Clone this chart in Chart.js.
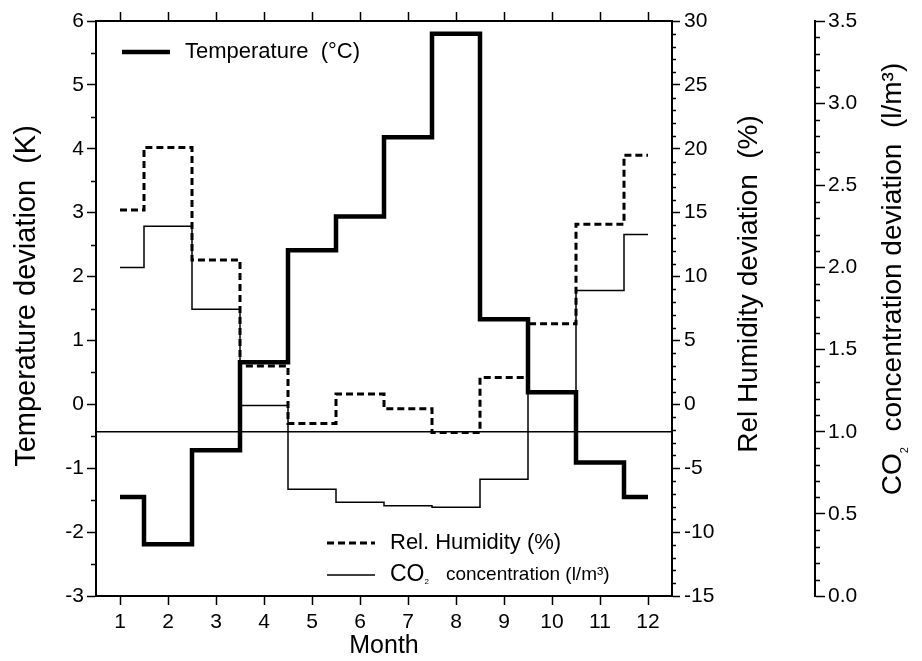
<!DOCTYPE html>
<html>
<head>
<meta charset="utf-8">
<script src="https://cdn.jsdelivr.net/npm/chart.js@4.4.1/dist/chart.umd.min.js"></script>
<style>
  html, body { margin: 0; padding: 0; background: #fff; }
  canvas { display: block; }
</style>
</head>
<body>
<canvas id="chart" width="922" height="661"></canvas>
<script>
// ── Dados (desvios mensais) ─────────────────────────────────────
const MONTHS = [1, 2, 3, 4, 5, 6, 7, 8, 9, 10, 11, 12];
const TEMP_DEV = [-1.45, -2.19, -0.72, 0.66, 2.41, 2.94, 4.18, 5.80, 1.33, 0.19, -0.91, -1.45];
const RH_DEV = [15.2, 20.1, 11.3, 3.0, -1.5, 0.8, -0.35, -2.2, 2.1, 6.3, 14.1, 19.5];
const CO2_DEV = [2.0, 2.25, 1.745, 1.16, 0.65, 0.57, 0.55, 0.54, 0.71, 1.24, 1.86, 2.20];
const CO2_REF = 1.0;

// ── Escalas / ticks ─────────────────────────────────────────────
const X_RANGE = [0.5, 12.5];
const TEMP_TICKS = [-3, -2, -1, 0, 1, 2, 3, 4, 5, 6];
const RH_TICKS = [-15, -10, -5, 0, 5, 10, 15, 20, 25, 30];
const CO2_TICKS = [0, 0.5, 1.0, 1.5, 2.0, 2.5, 3.0, 3.5];

const FONT = '"Liberation Sans", Arial, Helvetica, sans-serif';
const INK = '#000';

const pts = ys => MONTHS.map((m, i) => ({ x: m, y: ys[i] }));
const fixTicks = list => scale => { scale.ticks = list.map(v => ({ value: v })); };

const tickFont = { family: FONT, size: 21 };
const axisGrid = { drawOnChartArea: false, color: INK, tickLength: 9, tickWidth: 1.5 };
const axisBorder = { color: INK, width: 2 };

// ── Minor ticks, títulos dos eixos Y e legendas ─────────────────
const MINOR = {
  y:    { step: 0.5, major: 1,   len: 5, side: -1 },
  yRH:  { step: 1,   major: 5,   len: 4, side: 1 },
  yCO2: { step: 0.1, major: 0.5, len: 5, side: 1 },
};

function drawRotated(ctx, x, y, parts) {
  // parts: [{text, size, dy}]
  ctx.save();
  ctx.translate(x, y);
  ctx.rotate(-Math.PI / 2);
  ctx.fillStyle = INK;
  ctx.textBaseline = 'middle';
  ctx.textAlign = 'left';
  let total = 0;
  parts.forEach(p => { ctx.font = `${p.size}px ${FONT}`; p.w = ctx.measureText(p.text).width; total += p.w; });
  let cx = -total / 2;
  parts.forEach(p => {
    ctx.font = `${p.size}px ${FONT}`;
    ctx.fillText(p.text, cx, p.dy || 0);
    cx += p.w;
  });
  ctx.restore();
}

function drawLegendItem(ctx, ds, x, y, parts) {
  ctx.save();
  ctx.strokeStyle = INK;
  ctx.lineWidth = ds.borderWidth;
  ctx.setLineDash(ds.borderDash || []);
  ctx.beginPath();
  ctx.moveTo(x, y);
  ctx.lineTo(x + 48, y);
  ctx.stroke();
  ctx.setLineDash([]);
  ctx.fillStyle = INK;
  ctx.textBaseline = 'middle';
  let cx = x + 63;
  parts.forEach(p => {
    ctx.font = `${p.size}px ${FONT}`;
    ctx.fillText(p.text, cx + (p.dx || 0), y + (p.dy || 0));
    cx += (p.dx || 0) + ctx.measureText(p.text).width;
  });
  ctx.restore();
}

const decorPlugin = {
  id: 'decor',
  afterDraw(chart) {
    const ctx = chart.ctx;
    const area = chart.chartArea;

    // minor ticks
    ctx.save();
    ctx.strokeStyle = INK;
    ctx.lineWidth = 1.5;
    for (const [id, m] of Object.entries(MINOR)) {
      const s = chart.scales[id];
      const n = Math.round((s.max - s.min) / m.step);
      const edge = m.side < 0 ? s.right : s.left;
      for (let i = 0; i <= n; i++) {
        const v = s.min + i * m.step;
        const r = v / m.major;
        if (Math.abs(r - Math.round(r)) < 1e-6) continue;
        const py = Math.round(s.getPixelForValue(v)) + 0.5;
        ctx.beginPath();
        ctx.moveTo(edge, py);
        ctx.lineTo(edge + m.side * m.len, py);
        ctx.stroke();
      }
    }
    ctx.restore();

    // títulos Y (todos lidos de baixo para cima)
    drawRotated(ctx, 27, 296, [{ text: 'Temperature deviation  (K)', size: 29 }]);
    drawRotated(ctx, 749, 284, [{ text: 'Rel Humidity deviation  (%)', size: 28 }]);
    drawRotated(ctx, 893, 279, [
      { text: 'CO', size: 28 },
      { text: '2', size: 11, dy: 12 },
      { text: '  concentration deviation  (l/m³)', size: 28 },
    ]);

    // legendas
    const [dT, dRH, dCO2] = chart.data.datasets;
    drawLegendItem(ctx, dT, area.left + 26, area.top + 31, [{ text: 'Temperature  (°C)', size: 22 }]);
    drawLegendItem(ctx, dRH, area.left + 231, area.top + 522, [{ text: 'Rel. Humidity (%)', size: 22 }]);
    drawLegendItem(ctx, dCO2, area.left + 231, area.top + 554, [
      { text: 'CO', size: 23 },
      { text: '2', size: 8, dy: 7 },
      { text: 'concentration (l/m³)', size: 19, dx: 17 },
    ]);
  }
};

new Chart(document.getElementById('chart'), {
  type: 'line',
  data: {
    datasets: [
      { label: 'Temperature (°C)', data: pts(TEMP_DEV), yAxisID: 'y',
        borderColor: INK, borderWidth: 4.5, stepped: 'middle', pointRadius: 0, fill: false },
      { label: 'Rel. Humidity (%)', data: pts(RH_DEV), yAxisID: 'yRH',
        borderColor: INK, borderWidth: 3, borderDash: [7, 4], stepped: 'middle', pointRadius: 0, fill: false },
      { label: 'CO₂ concentration (l/m³)', data: pts(CO2_DEV), yAxisID: 'yCO2',
        borderColor: INK, borderWidth: 1.5, stepped: 'middle', pointRadius: 0, fill: false },
      { label: 'ref', data: X_RANGE.map(x => ({ x, y: CO2_REF })), yAxisID: 'yCO2',
        borderColor: INK, borderWidth: 1.5, pointRadius: 0, fill: false },
    ]
  },
  options: {
    responsive: false,
    devicePixelRatio: 1,
    animation: false,
    layout: { padding: 0 },
    plugins: { legend: { display: false }, tooltip: { enabled: false } },
    scales: {
      x: {
        type: 'linear', position: 'bottom', min: X_RANGE[0], max: X_RANGE[1],
        afterBuildTicks: fixTicks(MONTHS),
        ticks: { color: INK, font: tickFont, padding: 5, maxRotation: 0, autoSkip: false },
        grid: axisGrid, border: axisBorder,
        title: { display: true, text: 'Month', color: INK, font: { family: FONT, size: 25 }, padding: { top: 0, bottom: 0 } },
        afterFit: s => { s.height = 65; }
      },
      x2: {
        type: 'linear', position: 'top', min: X_RANGE[0], max: X_RANGE[1],
        afterBuildTicks: fixTicks(MONTHS),
        ticks: { display: false },
        grid: axisGrid, border: axisBorder,
        afterFit: s => { s.height = 21; }
      },
      y: {
        position: 'left', min: -3, max: 6,
        afterBuildTicks: fixTicks(TEMP_TICKS),
        ticks: { color: INK, font: tickFont, padding: 3 },
        grid: axisGrid, border: axisBorder,
        afterFit: s => { s.width = 96; }
      },
      yRH: {
        position: 'right', min: -15, max: 30,
        afterBuildTicks: fixTicks(RH_TICKS),
        ticks: { color: INK, font: tickFont, padding: 4 },
        grid: { ...axisGrid, tickLength: 8 }, border: axisBorder,
        afterFit: s => { s.width = 143; }
      },
      yCO2: {
        position: 'right', min: 0, max: 3.5,
        afterBuildTicks: fixTicks(CO2_TICKS),
        ticks: { color: INK, font: tickFont, padding: 3, callback: v => v.toFixed(1) },
        grid: { ...axisGrid, tickLength: 10 }, border: axisBorder,
        afterFit: s => { s.width = 107; }
      }
    }
  },
  plugins: [decorPlugin]
});
</script>
</body>
</html>
